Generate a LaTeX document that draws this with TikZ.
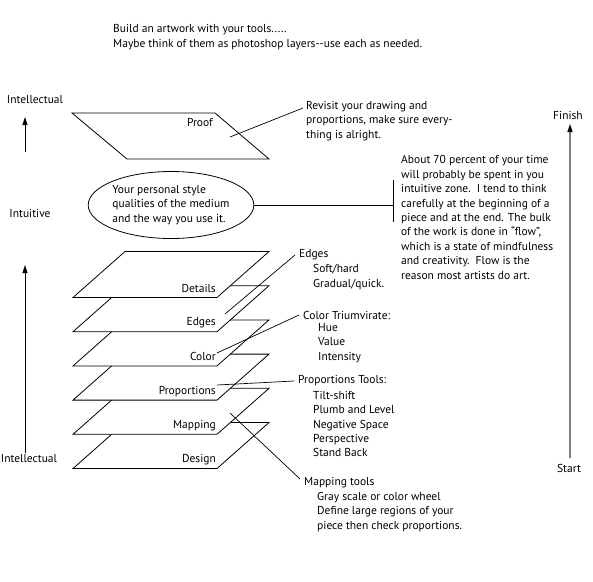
\documentclass[tikz,border=0pt]{standalone}
\usepackage{fontspec}
\setmainfont{PT Sans}
\usetikzlibrary{positioning, arrows.meta, shapes.geometric, calc}

\begin{document}
\begin{tikzpicture}[
    x=1pt, y=-1pt,
    every node/.style={font=\fontsize{11.5}{14.4}\selectfont},
    layer/.style={draw, fill=white, line width=0.8pt},
    layerlabel/.style={anchor=east, inner sep=0pt},
    note/.style={anchor=west, align=left, inner sep=0pt},
    leader/.style={line width=0.7pt},
    sidelabel/.style={inner sep=0pt},
    uparrow/.style={-{Triangle[length=8pt, width=5pt]}, line width=0.9pt},
    timearrow/.style={-{Triangle[length=8pt, width=5pt, color=black]}, draw=black!50, line width=1.3pt}
]
\useasboundingbox (0,0) rectangle (593,581);

% Intro text
\node[note] (intro) at (113,37) {Build an artwork with your tools.....\\Maybe think of them as photoshop layers-{}-use each as needed.};

% Layer stack, drawn from the bottom up
\foreach \name/\yb in {Design/468.5, Mapping/434.3, Proportions/400.1, Color/365.9, Edges/331.7, Details/297.5} {
  \filldraw[layer] (73,\yb) -- ++(144,0) -- ++(52,-46) -- ++(-144,0) -- cycle;
  \node[layerlabel] (lay-\name) at (216,\yb-9) {\name};
}

% Proof layer
\filldraw[layer] (72,113) -- (215,113) -- (269,159) -- (127,159) -- cycle;
\node[layerlabel] (lay-Proof) at (213,122) {Proof};

% Intuitive zone
\node[ellipse, draw, line width=0.8pt, minimum width=154pt, minimum height=67pt, inner sep=0pt, align=left] (styleoval) at (171,205) {Your personal style\\qualities of the medium\\and the way you use it.};
\coordinate (bartop) at (393,180);
\coordinate (barbot) at (393,222);
\draw[line width=0.8pt] (styleoval.east) -- (styleoval.east -| bartop);
\draw[line width=0.8pt] (bartop) -- (barbot);

% Notes
\node[note] (revisit) at (306,121) {Revisit your drawing and\\proportions, make sure every-\\thing is alright.};
\node[note] (flow) at (401,217.5) {About 70 percent of your time\\will probably be spent in you\\intuitive zone.\ \ I tend to think\\carefully at the beginning of a\\piece and at the end. The bulk\\of the work is done in “flow”,\\which is a state of mindfulness\\and creativity.\ \ Flow is the\\reason most artists do art.};

\node[note] (edgeshead) at (299,255) {Edges};
\node[note] (edgesitems) at (313,277) {Soft/hard\\Gradual/quick.};
\node[note] (colorhead) at (303,315) {Color Triumvirate:};
\node[note] (coloritems) at (318,343) {Hue\\Value\\Intensity};
\node[note] (propshead) at (298,381) {Proportions Tools:};
\node[note] (propsitems) at (313,424) {Tilt-shift\\Plumb and Level\\Negative Space\\Perspective\\Stand Back};
\node[note] (maphead) at (304,483) {Mapping tools};
\node[note] (mapitems) at (317,512) {Gray scale or color wheel\\Define large regions of your\\piece then check proportions.};

% Leaders
\coordinate (proofpt) at (230,137);
\coordinate (revisitpt) at (303,108);
\coordinate (edgespt) at (225,314);
\coordinate (colorpt) at (217,353);
\coordinate (propspt) at (217,385);
\coordinate (mappt) at (230,413);
\draw[leader] (proofpt) -- (revisitpt);
\draw[leader] (edgespt) -- ([xshift=-4pt]edgeshead.west);
\draw[leader] (colorpt) -- ([xshift=-4pt]colorhead.west);
\draw[leader] (propspt) -- ([xshift=-4pt]propshead.west);
\draw[leader] (mappt) -- ([xshift=-4pt,yshift=4pt]maphead.west);

% Left scale
\node[sidelabel] (inteltop) at (35,100) {Intellectual};
\node[sidelabel] (intuit) at (30,213) {Intuitive};
\node[sidelabel] (intelbot) at (29,459) {Intellectual};
\coordinate (uptail) at (25,152);
\coordinate (uptip) at (25,117);
\coordinate (lowtail) at (25,453);
\coordinate (lowtip) at (25,265);
\draw[uparrow] (uptail) -- (uptip);
\draw[uparrow] (lowtail) -- (lowtip);

% Time scale
\node[sidelabel] (finish) at (568,115) {Finish};
\node[sidelabel] (start) at (569,468) {Start};
\coordinate (timetail) at (570,458);
\coordinate (timetip) at (570,124);
\draw[timearrow] (timetail) -- (timetip);

\end{tikzpicture}
\end{document}
